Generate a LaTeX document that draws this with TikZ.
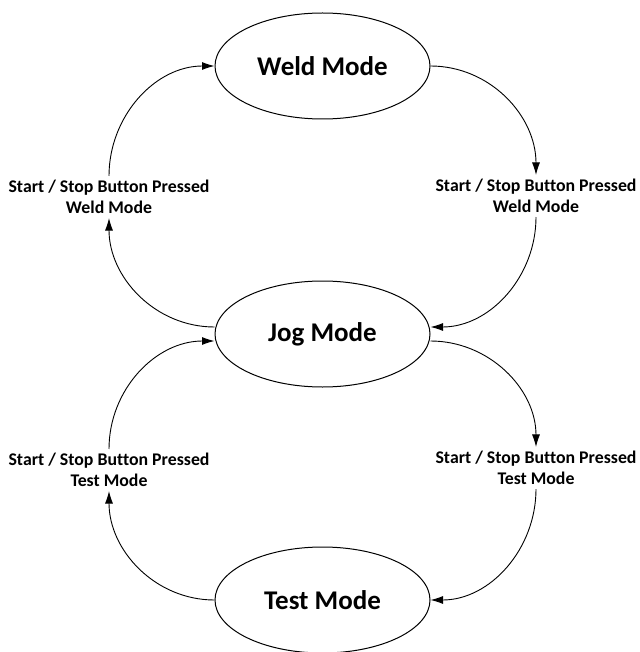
\documentclass[tikz,border=0pt]{standalone}
\usepackage{fontspec}
\setmainfont[Ligatures=NoCommon]{Carlito}
\usetikzlibrary{shapes.geometric,arrows.meta}
\begin{document}
\begin{tikzpicture}[x=1pt,y=-1pt,
  state/.style={ellipse,draw,line width=1pt,minimum width=215pt,minimum height=106pt,inner sep=0pt,font=\bfseries\fontsize{27}{30}\selectfont},
  trans/.style={align=center,inner xsep=0pt,inner ysep=4pt,font=\bfseries\fontsize{17.8}{21}\selectfont},
  conn/.style={line width=0.9pt,-{Latex[length=12.5pt,width=8pt]}}]
\useasboundingbox (0,0) rectangle (639,652);
\node[state] (weld) at (322.5,66) {Weld Mode};
\node[state] (jog) at (322.5,334) {Jog Mode};
\node[state] (test) at (322.5,600) {Test Mode};
\node[trans] (l1) at (109,197) {Start / Stop Button Pressed\\Weld Mode};
\node[trans] (r1) at (536,196) {Start / Stop Button Pressed\\Weld Mode};
\node[trans] (l2) at (109,470) {Start / Stop Button Pressed\\Test Mode};
\node[trans] (r2) at (536,468) {Start / Stop Button Pressed\\Test Mode};
% top-left loop
\draw[conn] ([yshift=7pt]jog.west) to[out=180,in=-90] (l1.south);
\draw[conn] (l1.north) to[out=90,in=180] (weld.west);
% top-right loop
\draw[conn] (weld.east) to[out=0,in=90] (r1.north);
\draw[conn] (r1.south) to[out=-90,in=0] ([yshift=7pt]jog.east);
% bottom-right loop
\draw[conn] ([yshift=-7pt]jog.east) to[out=0,in=90] (r2.north);
\draw[conn] (r2.south) to[out=-90,in=0] (test.east);
% bottom-left loop
\draw[conn] (test.west) to[out=180,in=-90] (l2.south);
\draw[conn] (l2.north) to[out=90,in=180] ([yshift=-7pt]jog.west);
\end{tikzpicture}
\end{document}
